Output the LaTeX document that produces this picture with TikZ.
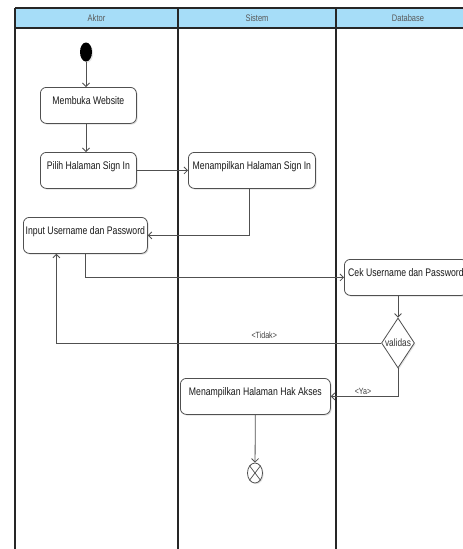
\documentclass[tikz,border=0pt]{standalone}
\usepackage{fontspec}
\newfontfamily\narrowsans[FakeStretch=0.79]{Liberation Sans}
\usetikzlibrary{arrows.meta,shapes.geometric,shadows}
\definecolor{lanehead}{RGB}{166,221,248}
\definecolor{edgegrey}{RGB}{80,80,80}
\tikzset{
  x=1pt, y=-1pt,
  act/.style={draw=edgegrey, line width=0.8pt, rounded corners=6pt, fill=white,
    anchor=north west, minimum height=36pt, text height=8.5pt, text depth=9.5pt,
    inner xsep=2pt, font=\narrowsans\fontsize{11}{13}\selectfont, text=black!90,
    drop shadow={shadow xshift=1.2pt, shadow yshift=-1.2pt, opacity=0.25}},
  flow/.style={draw=edgegrey, line width=0.8pt, -{Straight Barb[length=3.5pt,width=7pt]}},
  lane/.style={draw=black!85, line width=1.3pt},
  headtxt/.style={font=\narrowsans\fontsize{9.5}{11}\selectfont, text=black!65},
  guard/.style={font=\narrowsans\fontsize{9}{11}\selectfont, text=black!75, inner sep=1pt},
}
\begin{document}
\begin{tikzpicture}
\clip (0,0) rectangle (463,549);
\fill[white] (0,0) rectangle (463,549);

% swimlane header band and lane borders
\fill[lanehead] (15,8) rectangle (470,28);
\draw[lane] (15,8) -- (470,8);
\draw[lane] (15,28) -- (470,28);
\draw[lane] (15,8) -- (15,549);
\draw[lane] (178,8) -- (178,549);
\draw[lane] (336,8) -- (336,549);

\node[headtxt] (hAktor) at (96.5,18) {Aktor};
\node[headtxt] (hSistem) at (257,18) {Sistem};
\node[headtxt] (hDb) at (408,18) {Database};

% start and end nodes
\node[ellipse, fill=black, minimum width=12pt, minimum height=19pt, inner sep=0pt,
  drop shadow={shadow xshift=1.2pt, shadow yshift=-1.2pt, opacity=0.2}] (start) at (86,52) {};
\node[ellipse, draw=edgegrey, fill=white, line width=0.8pt, minimum width=15pt,
  minimum height=20pt, inner sep=0pt,
  drop shadow={shadow xshift=1.2pt, shadow yshift=-1.2pt, opacity=0.2}] (fin) at (255,473) {};
\draw[edgegrey, line width=0.7pt] (fin.north west) -- (fin.south east)
  (fin.north east) -- (fin.south west);

% activities
\node[act, minimum width=96pt] (web) at (40,87) {Membuka Website};
\node[act, minimum width=96pt] (pilih) at (40,152) {Pilih Halaman Sign In};
\node[act, minimum width=127pt] (signin) at (188,152) {Menampilkan Halaman Sign In};
\node[act, minimum width=124pt] (input) at (23,217) {Input Username dan Password};
\node[act, minimum width=123pt] (cek) at (344,259) {Cek Username dan Password};
\node[act, minimum width=150pt] (hak) at (180,378) {Menampilkan Halaman Hak Akses};

% decision
\node[diamond, draw=edgegrey, fill=white, line width=0.8pt, minimum width=33pt,
  minimum height=50pt, inner sep=0pt,
  drop shadow={shadow xshift=1.2pt, shadow yshift=-1.2pt, opacity=0.2},
  label={[font=\narrowsans\fontsize{10.5}{12}\selectfont, text=black!80]center:validas}] (dec) at (398,343) {};

% control flow
\draw[flow] (start) -- (start |- web.north);
\draw[flow] (start |- web.south) -- (start |- pilih.north);
\draw[flow] (pilih) -- (signin);
\draw[flow] ([xshift=-2.5pt]signin.south) |- (input.east);
\draw[flow] (input.south) |- (cek.west);
\draw[flow] (dec.north |- cek.south) -- (dec.north);
\draw[flow] (dec.west) -| node[guard, pos=0.18, above=3pt] {<Tidak>} ([xshift=-29pt]input.south);
\draw[flow] (dec.south) |- node[guard, pos=0.76, above] {<Ya>} (hak.east);
\draw[flow] (hak) -- (fin);
\end{tikzpicture}
\end{document}
